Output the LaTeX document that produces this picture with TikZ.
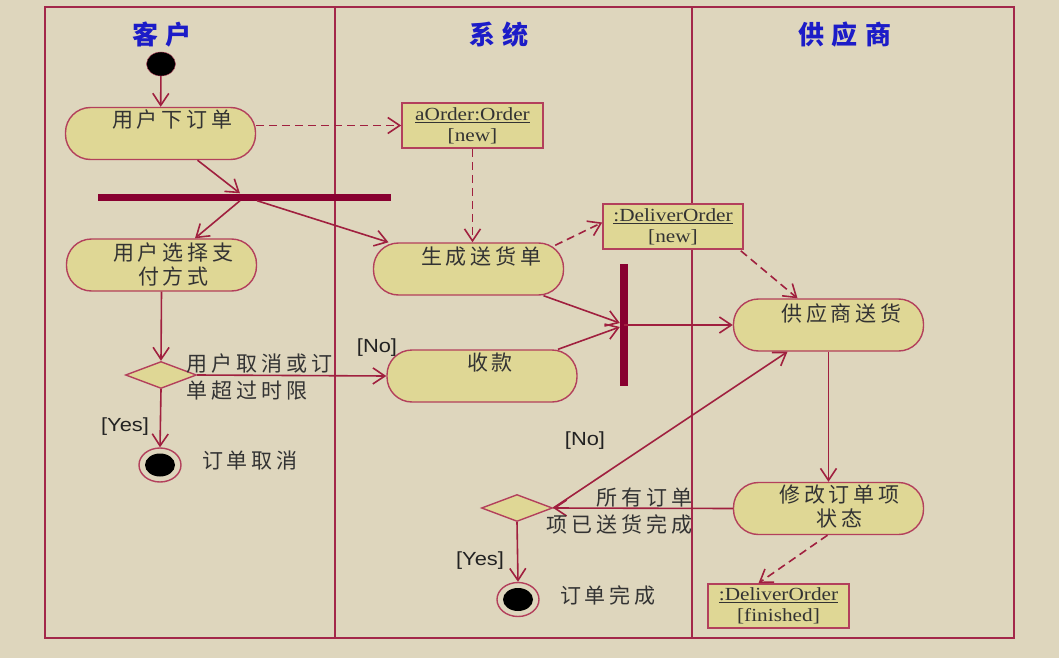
\documentclass[tikz,border=0pt]{standalone}
\usepackage{fontspec}
\setmainfont{Liberation Serif}[FakeStretch=1.15]
\newfontfamily\cjk{Noto Sans CJK SC}[LetterSpace=19]
\newfontfamily\cjkt{Noto Sans CJK SC}[LetterSpace=28]
\newfontfamily\sansf{Liberation Sans}[FakeStretch=1.15]
\usetikzlibrary{arrows.meta,shapes.geometric,calc}
\definecolor{bg}{HTML}{DED6BD}
\definecolor{fr}{HTML}{A3284A}
\definecolor{lc}{HTML}{A0203F}
\definecolor{nb}{HTML}{B3405C}
\definecolor{nf}{HTML}{DFD795}
\definecolor{bc}{HTML}{880030}
\definecolor{tb}{HTML}{1C1CC8}
\definecolor{tc}{HTML}{333333}
\definecolor{tx}{HTML}{222222}
\begin{document}
\begin{tikzpicture}[x=1pt,y=-1pt,
  line/.style={draw=lc, line width=1.6pt, -{Straight Barb[length=12pt,width=16pt,line width=1.6pt]}},
  dline/.style={line, dash pattern=on 8pt off 5pt},
  act/.style={draw=nb, line width=1.4pt, fill=nf, rounded corners=25pt, minimum width=190pt, minimum height=52pt, inner sep=0pt},
  actlbl/.style={font=\cjk\fontsize{21}{24}\selectfont, text=tc, align=center, anchor=center, inner sep=0pt},
  obj/.style={draw=nb, line width=1.6pt, fill=nf, minimum width=141pt, minimum height=45pt, align=center, font=\fontsize{18.5}{21}\selectfont, text=tc, inner sep=0pt},
  bar/.style={fill=bc, inner sep=0pt},
  dec/.style={diamond, draw=nb, fill=nf, line width=1.4pt, minimum width=71pt, minimum height=27pt, inner sep=0pt},
  startn/.style={ellipse, fill=black, draw=nb, minimum width=29pt, minimum height=24pt, inner sep=0pt},
  finaln/.style={ellipse, draw=nb, fill=bg, line width=1.4pt, minimum width=42pt, minimum height=34pt, inner sep=0pt,
    path picture={\fill[black] (path picture bounding box.center) ellipse [x radius=15pt, y radius=11.5pt];}},
  title/.style={font=\cjkt\bfseries\fontsize{26}{30}\selectfont, text=tb},
  guard/.style={font=\sansf\fontsize{19}{22}\selectfont, text=tx, inner sep=0pt},
  note/.style={font=\cjk\fontsize{21}{27}\selectfont, text=tc, inner sep=0pt}
]
\useasboundingbox (0,0) rectangle (1059,658);
\fill[bg] (0,0) rectangle (1059,658);
% frame and lanes
\draw[fr, line width=1.5pt] (45,7) rectangle (1014,638);
\draw[fr, line width=1.8pt] (335,7) -- (335,638);
\draw[fr, line width=1.8pt] (692,7) -- (692,638);
\node[title] (t1) at (162,35) {客户};
\node[title] (t2) at (499,35) {系统};
\node[title] (t3) at (845,35) {供应商};

% nodes
\node[startn] (start) at (161,64) {};
\node[act, label={[actlbl, xshift=12pt, yshift=-13pt]north:用户下订单}] (ua) at (160.5,133.5) {};
\node[bar, minimum width=293pt, minimum height=7pt] (bar1) at (244.5,197) {};
\node[act, label={[actlbl, xshift=12pt, yshift=-26pt]north:用户选择支\\付方式}] (ub) at (161.5,265) {};
\node[dec] (dec1) at (161,375) {};
\node[finaln] (fin1) at (160,465) {};
\node[obj] (obj1) at (472.5,125.5) {\underline{aOrder:Order}\\{[new]}};
\node[act, label={[actlbl, xshift=13pt, yshift=-14pt]north:生成送货单}] (sc) at (468.5,269) {};
\node[act, label={[actlbl, xshift=8pt, yshift=-13pt]north:收款}] (sk) at (482,376) {};
\node[obj, minimum width=140pt] (obj2) at (673,226.5) {\underline{:DeliverOrder}\\{[new]}};
\node[bar, minimum width=8pt, minimum height=122pt] (bar2) at (624,325) {};
\node[act, label={[actlbl, xshift=13pt, yshift=-15pt]north:供应商送货}] (gy) at (828.5,325) {};
\node[act, label={[actlbl, xshift=11pt, yshift=-25pt]north:修改订单项\\状态}] (xg) at (828.5,508.5) {};
\node[dec] (dec2) at (517,508) {};
\node[finaln] (fin2) at (518,599.5) {};
\node[obj, minimum height=44pt] (obj3) at (778.5,606) {\underline{:DeliverOrder}\\{[finished]}};

% connectors
\draw[line] (start) -- (ua);
\draw[line] ($(ua.south)+(37,0)$) -- ($(bar1.north)+(-4.5,0)$);
\draw[line] ($(bar1.south)+(-4.5,0)$) -- ($(ub.north)+(33.5,0)$);
\draw[line] ($(bar1.south)+(12.5,0)$) -- ($(sc.north)+(-80,0)$);
\draw[dline] (ua.east |- obj1.west) -- (obj1.west);
\draw[dline] (obj1.south) -- (obj1.south |- sc.north);
\draw[dline] ($(sc.north east)+(-9,3)$) -- ($(obj2.west)+(0,-4)$);
\draw[dline] ($(obj2.south east)+(-3,1)$) -- ($(gy.north)+(-31,0)$);
\draw[line] ($(sc.south)+(75,0)$) -- ($(bar2.west)+(0,-2)$);
\draw[line] ($(sk.north)+(76,0)$) -- ($(bar2.west)+(0,2)$);
\draw[line] (bar2.center) -- (gy.west);
\draw[line] (gy.south) -- (xg.north);
\draw[line] (xg.west) -- (dec2.east);
\draw[line] (dec2.east) -- ($(gy.south)+(-41,0)$);
\draw[line] (dec2.south) -- (fin2.north);
\draw[dline] ($(xg.south)+(-1,0)$) -- ($(obj3.north)+(-20,0)$);
\draw[line] (ub.south) -- (dec1.north);
\draw[line] (dec1.east) -- (sk.west);
\draw[line] (dec1.south) -- (fin1.north);

% labels
\node[note, anchor=west, align=left] (l1) at (186,377) {用户取消或订\\单超过时限};
\node[guard] (l2) at (377,348) {[No]};
\node[guard] (l3) at (125,427) {[Yes]};
\node[note] (l4) at (250,461) {订单取消};
\node[note, anchor=east, align=right] (l5) at (693,511) {所有订单\\项已送货完成};
\node[guard] (l6) at (585,441) {[No]};
\node[guard] (l7) at (480,561) {[Yes]};
\node[note] (l8) at (608,595) {订单完成};
\end{tikzpicture}
\end{document}
